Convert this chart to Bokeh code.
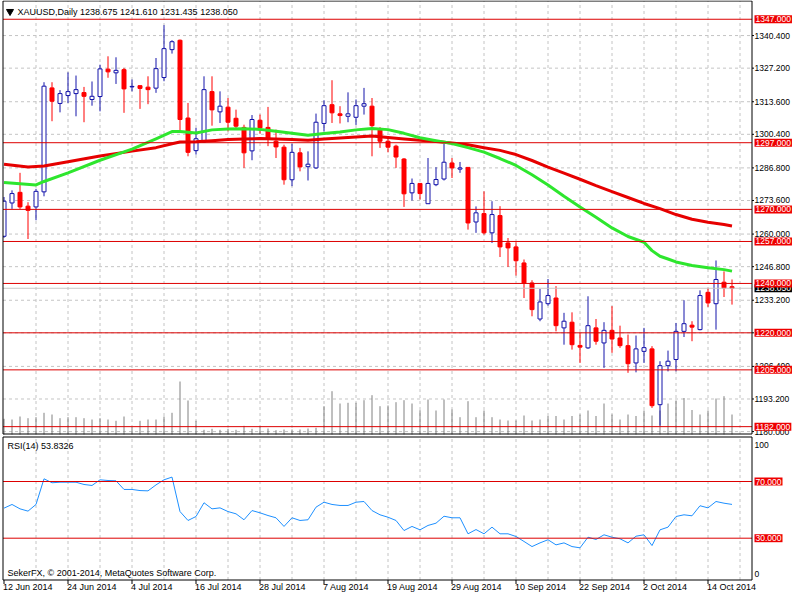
import numpy as np
import pandas as pd
from bokeh.plotting import figure
from bokeh.models import Range1d, Label, ColumnDataSource
from bokeh.core.properties import value
from bokeh.embed import file_html
from bokeh.resources import INLINE

# ---------------- data ----------------
dates = pd.bdate_range("2014-06-12", "2014-10-17")

opens = [1259.1, 1272.6, 1276.9, 1271.3, 1271.0, 1277.1, 1319.2, 1312.9, 1316.1, 1316.9,
         1317.3, 1314.5, 1315.7, 1326.8, 1325.3, 1326.6, 1319.6, 1320.1, 1319.5, 1319.1,
         1323.4, 1334.7, 1338.5, 1307.0, 1293.8, 1297.3, 1317.7, 1309.5, 1311.4, 1306.9,
         1303.2, 1293.7, 1306.1, 1303.2, 1297.6, 1295.2, 1282.0, 1292.9, 1287.3, 1286.8,
         1304.8, 1312.4, 1308.7, 1307.7, 1307.3, 1311.8, 1311.8, 1302.3, 1297.6, 1295.6,
         1290.4, 1276.7, 1280.5, 1272.3, 1280.0, 1282.3, 1288.8, 1286.3, 1287.0, 1264.9,
         1268.3, 1260.5, 1267.5, 1256.4, 1254.8, 1248.3, 1240.2, 1225.6, 1231.8, 1234.1,
         1222.0, 1224.3, 1214.9, 1213.9, 1222.0, 1215.9, 1221.0, 1217.9, 1214.8, 1207.8,
         1212.5, 1213.5, 1190.9, 1206.7, 1209.2, 1220.6, 1223.1, 1221.3, 1236.4, 1231.8,
         1240.5, 1238.675]
highs = [1275.0, 1277.7, 1284.8, 1272.9, 1278.3, 1321.5, 1321.5, 1318.3, 1325.5, 1324.2,
         1319.6, 1321.8, 1328.6, 1332.0, 1331.6, 1327.3, 1322.6, 1320.2, 1323.9, 1331.3,
         1344.6, 1338.5, 1338.8, 1313.1, 1303.0, 1323.9, 1323.9, 1317.8, 1315.1, 1310.4,
         1304.3, 1308.2, 1308.4, 1311.5, 1302.3, 1296.2, 1296.6, 1294.9, 1293.5, 1308.8,
         1314.2, 1322.3, 1311.8, 1317.4, 1314.5, 1319.2, 1315.1, 1303.3, 1299.6, 1296.2,
         1290.8, 1282.5, 1280.5, 1290.8, 1287.1, 1296.5, 1290.8, 1289.2, 1287.0, 1271.2,
         1277.3, 1273.3, 1271.3, 1258.4, 1256.7, 1249.7, 1241.3, 1237.8, 1241.8, 1238.9,
         1228.1, 1228.3, 1220.0, 1234.8, 1225.6, 1224.3, 1230.8, 1222.9, 1219.3, 1218.9,
         1222.0, 1214.6, 1208.5, 1212.8, 1224.0, 1233.2, 1224.7, 1237.2, 1238.2, 1249.3,
         1244.9, 1241.61]
lows = [1258.5, 1270.2, 1270.2, 1258.0, 1265.6, 1275.3, 1305.7, 1309.3, 1313.1, 1307.7,
        1305.3, 1312.0, 1309.7, 1323.3, 1320.8, 1309.1, 1317.8, 1310.7, 1312.6, 1317.2,
        1321.9, 1333.1, 1301.6, 1291.5, 1292.2, 1296.9, 1303.9, 1305.0, 1301.6, 1302.3,
        1286.8, 1289.9, 1300.7, 1295.6, 1290.8, 1280.0, 1279.4, 1285.4, 1281.7, 1286.4,
        1301.6, 1305.0, 1304.8, 1305.3, 1304.2, 1308.4, 1291.5, 1294.9, 1293.1, 1286.8,
        1271.0, 1273.6, 1274.0, 1272.3, 1279.4, 1281.7, 1282.7, 1284.8, 1261.8, 1260.5,
        1259.8, 1256.4, 1250.7, 1246.7, 1243.2, 1234.1, 1226.7, 1224.7, 1231.0, 1220.6,
        1215.2, 1213.2, 1207.8, 1213.5, 1215.2, 1205.8, 1211.9, 1213.9, 1203.8, 1204.0,
        1207.8, 1189.6, 1182.4, 1204.4, 1204.4, 1218.3, 1216.6, 1221.0, 1230.5, 1221.3,
        1234.5, 1231.435]
closes = [1273.3, 1276.4, 1271.0, 1269.6, 1277.3, 1319.9, 1313.8, 1316.9, 1317.7, 1318.5,
          1315.8, 1315.8, 1326.9, 1325.7, 1326.3, 1318.8, 1319.8, 1319.0, 1318.5, 1327.0,
          1335.1, 1337.9, 1306.4, 1293.1, 1298.6, 1318.5, 1310.3, 1311.8, 1305.3, 1303.7,
          1292.9, 1306.4, 1303.0, 1298.9, 1295.3, 1282.0, 1293.1, 1287.2, 1288.3, 1305.3,
          1312.0, 1309.1, 1308.0, 1308.7, 1312.0, 1312.8, 1303.9, 1297.6, 1295.2, 1291.2,
          1276.3, 1280.5, 1276.4, 1280.5, 1282.1, 1289.1, 1286.8, 1286.8, 1264.5, 1268.6,
          1260.5, 1267.9, 1254.8, 1254.4, 1249.2, 1240.2, 1229.4, 1232.5, 1235.1, 1222.9,
          1224.7, 1215.2, 1214.2, 1222.9, 1216.6, 1221.0, 1217.5, 1214.8, 1207.5, 1213.5,
          1214.0, 1190.5, 1206.7, 1208.5, 1220.6, 1223.7, 1222.3, 1235.1, 1232.1, 1241.6,
          1238.2, 1238.05]
# tick volume (thousands)
volumes = [15.7, 15.0, 18.0, 16.3, 17.3, 21.7, 20.0, 16.3, 17.3, 17.3,
           16.3, 15.0, 16.3, 15.0, 13.7, 18.0, 7.3, 13.7, 15.0, 15.0,
           18.0, 21.7, 53.0, 34.0, 13.7, 4.7, 5.7, 4.7, 5.7, 4.7,
           8.7, 5.7, 8.3, 6.0, 4.3, 5.0, 5.0, 5.0, 6.0, 6.7,
           28.3, 43.3, 31.0, 31.7, 31.7, 34.3, 39.3, 28.3, 29.0, 32.3,
           34.3, 31.0, 24.3, 35.0, 24.0, 35.0, 25.0, 17.3, 33.3, 17.3,
           24.0, 17.3, 15.0, 14.0, 14.0, 19.0, 14.0, 15.0, 18.5, 18.5,
           15.0, 18.5, 20.0, 24.0, 18.5, 31.0, 20.0, 15.0, 20.0, 18.5,
           24.0, 19.0, 24.0, 31.0, 34.0, 36.5, 24.5, 20.0, 24.0, 36.0,
           38.3, 20.0]
rsi = [51.2, 53.8, 50.7, 49.1, 53.8, 71.9, 69.1, 69.5, 69.5, 69.5,
       67.9, 67.2, 71.2, 70.7, 70.5, 64.4, 64.4, 63.6, 63.4, 67.6,
       71.2, 73.1, 48.8, 42.5, 45.3, 55.0, 50.7, 51.4, 48.8, 47.2,
       43.0, 49.5, 47.9, 46.0, 44.4, 38.3, 44.4, 42.5, 43.0, 51.9,
       55.4, 53.8, 53.1, 53.1, 55.4, 55.9, 49.5, 46.5, 44.8, 42.5,
       35.4, 38.3, 35.9, 39.0, 40.6, 45.5, 44.4, 44.4, 33.1, 36.1,
       33.1, 37.8, 33.1, 33.1, 31.2, 27.7, 24.1, 26.7, 28.9, 25.3,
       26.7, 24.1, 23.2, 30.7, 29.1, 32.4, 30.7, 29.6, 26.7, 31.4,
       32.4, 24.8, 35.9, 37.8, 45.3, 46.5, 45.8, 52.9, 51.4, 55.9,
       54.7, 53.8326]
# moving averages, read at selected bars
ma_fast_idx = [0, 2, 4, 5, 8, 12, 16, 19, 21, 22, 24, 26, 28, 30, 32, 34, 36, 38, 40, 42,
               44, 46, 48, 50, 52, 54, 56, 58, 60, 62, 64, 66, 68, 70, 72, 74, 76, 78, 80, 81,
               82, 83, 84, 86, 88, 90, 91]
ma_fast = [1280.9, 1280.4, 1279.9, 1281.3, 1284.8, 1289.9, 1294.4, 1298.6, 1301.5, 1301.5,
           1300.9, 1302.2, 1302.6, 1302.7, 1302.4, 1301.6, 1300.8, 1300.0, 1300.7, 1301.3,
           1302.2, 1302.8, 1302.3, 1300.8, 1299.0, 1297.8, 1296.7, 1295.0, 1293.2, 1290.6,
           1287.8, 1284.0, 1279.9, 1275.3, 1271.0, 1266.8, 1262.5, 1259.0, 1256.7, 1253.3,
           1251.0, 1249.9, 1248.7, 1247.3, 1246.4, 1245.6, 1245.0]
ma_slow_idx = [0, 3, 5, 8, 12, 16, 19, 21, 22, 24, 26, 28, 30, 32, 34, 36, 38, 40, 42, 44,
               46, 48, 50, 52, 54, 56, 58, 60, 62, 64, 66, 68, 70, 72, 74, 76, 78, 80, 82, 84,
               86, 88, 90, 91]
ma_slow = [1288.3, 1287.2, 1287.6, 1289.3, 1291.6, 1293.6, 1295.0, 1296.6, 1297.3, 1297.4,
           1297.8, 1298.3, 1298.5, 1298.7, 1298.5, 1298.3, 1298.0, 1298.5, 1298.9, 1299.3,
           1299.7, 1299.1, 1298.5, 1298.0, 1297.5, 1296.9, 1296.2, 1295.0, 1293.9, 1292.2,
           1289.8, 1287.1, 1284.7, 1282.2, 1279.6, 1277.2, 1274.8, 1272.4, 1270.3, 1267.9,
           1266.0, 1264.8, 1263.9, 1263.3]
levels = [1347.0, 1297.0, 1270.0, 1257.0, 1240.0, 1220.0, 1205.0, 1182.0]
price_ticks = [1340.4, 1327.2, 1313.6, 1300.4, 1286.8, 1273.6, 1260.0, 1246.8, 1233.2,
               1220.0, 1206.4, 1193.2, 1180.0]
rsi_levels = [70.0, 30.0]
rsi_scale_labels = ["100", "0"]
symbol = "XAUUSD,Daily"
copyright_text = "SekerFX, \u00a9 2001-2014, MetaQuotes Software Corp."

# ---------------- geometry (canvas pixels) / style ----------------
W, H = 792, 592
BAR = 8.0
X0PX = 3.5                      # pixel of bar 0
PX_PER_USD = 2.469
PRICE_AT_TOP = 1354.6
RSI_PX = 1.4175
MAIN_T, MAIN_B = 0.5, 433.5     # main panel border rows
RSI_T, RSI_B = 436.5, 579.5     # RSI panel border rows
LEFT, RIGHT = 2.5, 751.5        # panel border columns
SCALE_TEXT_X = 754              # left edge of price-scale texts

FONT = value("Liberation Sans")
FS = value("9px")
FS_SCALE = value("8.5px")
BLUE = "#1414aa"
RED = "#ff0000"
LRED = "#dd0000"
GRID = "#c4c4c4"


def px2x(px):
    return (px - X0PX) / BAR


def py2p(py):
    return PRICE_AT_TOP - py / PX_PER_USD


def py2r(py):
    return 70.0 - (py - 481.0) / RSI_PX


def py2v(py):
    return 434.0 - py


n = len(opens)
idx = np.arange(n)
o = np.array(opens)
c = np.array(closes)
bull = c >= o
src = ColumnDataSource(dict(
    x=idx, high=highs, low=lows,
    top=np.maximum(o, c), bottom=np.minimum(o, c),
    line=[BLUE if b else RED for b in bull],
    fill=["white" if b else RED for b in bull],
))
grid_idx = list(range(4, n + 2, 4))
label_idx = list(range(0, n, 8))

p = figure(width=W, height=H,
           x_range=Range1d(px2x(0), px2x(W)), y_range=Range1d(py2p(H), py2p(0)),
           x_axis_location=None, y_axis_location=None,
           toolbar_location=None, output_backend="svg",
           min_border_left=0, min_border_right=0, min_border_top=0, min_border_bottom=0)
p.outline_line_color = None
p.background_fill_color = "white"
p.border_fill_color = "white"
p.xgrid.grid_line_color = None
p.ygrid.grid_line_color = None
p.extra_y_ranges = {"rsi": Range1d(py2r(H), py2r(0)), "vol": Range1d(py2v(H), py2v(0))}

xl, xr = px2x(LEFT), px2x(RIGHT)

# dashed grid
ng = len(grid_idx)
p.segment(x0=grid_idx, x1=grid_idx, y0=[py2p(MAIN_B)] * ng, y1=[py2p(MAIN_T)] * ng,
          line_color=GRID, line_width=1, line_dash="3 3")
p.segment(x0=grid_idx, x1=grid_idx, y0=[py2r(RSI_B)] * ng, y1=[py2r(RSI_T)] * ng,
          line_color=GRID, line_width=1, line_dash="3 3", y_range_name="rsi")
npt = len(price_ticks)
p.segment(x0=[xl] * npt, x1=[xr] * npt, y0=price_ticks, y1=price_ticks,
          line_color=GRID, line_width=1, line_dash="3 3")

# volumes
p.segment(x0=idx, y0=0, x1=idx, y1=volumes, y_range_name="vol",
          line_color="#808080", line_width=1)

# candles
p.segment(x0="x", y0="low", x1="x", y1="high", line_color="line", line_width=1, source=src)
p.vbar(x="x", width=0.5, top="top", bottom="bottom", fill_color="fill",
       line_color="line", line_width=1, source=src)

# moving averages
p.line(ma_slow_idx, ma_slow, line_color="#e60000", line_width=3, line_join="round")
p.line(ma_fast_idx, ma_fast, line_color="#2ee62e", line_width=3, line_join="round")

# bid line and horizontal levels
p.segment(x0=[xl], x1=[xr], y0=[closes[-1]], y1=[closes[-1]], line_color="#c8c8c8", line_width=1)
nl = len(levels)
p.segment(x0=[xl] * nl, x1=[xr] * nl, y0=levels, y1=levels, line_color=LRED, line_width=1)

# RSI
p.line(idx, rsi, line_color="#1e90ff", line_width=1, y_range_name="rsi")
nr = len(rsi_levels)
p.segment(x0=[xl] * nr, x1=[xr] * nr, y0=rsi_levels, y1=rsi_levels, line_color=LRED,
          line_width=1, y_range_name="rsi")

# mask left of the panels, then borders
p.quad(left=px2x(0), right=xl, bottom=py2p(H), top=py2p(0), fill_color="white", line_color=None)
p.quad(left=xl, right=xr, bottom=py2p(MAIN_B), top=py2p(MAIN_T), fill_color=None,
       line_color="black", line_width=1)
p.quad(left=xl, right=xr, bottom=py2r(RSI_B), top=py2r(RSI_T), fill_color=None,
       line_color="black", line_width=1, y_range_name="rsi")

# price-scale ticks and labels
p.segment(x0=[xr] * npt, x1=[px2x(753.5)] * npt, y0=price_ticks, y1=price_ticks,
          line_color="black", line_width=1)
p.text(x=[px2x(SCALE_TEXT_X)] * npt, y=price_ticks, text=[f"{t:.3f}" for t in price_ticks],
       text_font=FONT, text_font_size=FS_SCALE, text_color="black",
       text_baseline="middle", text_align="left")

# date ticks and labels
nd = len(label_idx)
p.segment(x0=label_idx, x1=label_idx, y0=[py2r(RSI_B)] * nd, y1=[py2r(RSI_B + 4)] * nd,
          line_color="black", line_width=1, y_range_name="rsi")
p.text(x=[k - 1 / BAR for k in label_idx], y=[py2r(586.5)] * nd,
       text=[f"{dates[k].day} {dates[k]:%b %Y}" for k in label_idx],
       text_font=FONT, text_font_size=FS, text_color="black",
       text_baseline="middle", text_align="left", y_range_name="rsi")

# RSI scale labels
p.text(x=[px2x(SCALE_TEXT_X)] * 2, y=[py2r(444), py2r(573)], text=rsi_scale_labels,
       text_font=FONT, text_font_size=FS_SCALE, text_color="black",
       text_baseline="middle", text_align="left", y_range_name="rsi")

# header, indicator name, copyright
p.scatter(x=[px2x(9.5)], y=[py2p(11)], marker="inverted_triangle", size=7,
          fill_color="black", line_color="black")
p.text(x=[px2x(17)], y=[py2p(11)],
       text=[f"{symbol}  {opens[-1]:.3f} {highs[-1]:.3f} {lows[-1]:.3f} {closes[-1]:.3f}"],
       text_font=FONT, text_font_size=FS, text_color="black",
       text_baseline="middle", text_align="left")
p.text(x=[px2x(7)] * 2, y=[py2r(445), py2r(572)],
       text=[f"RSI(14) {rsi[-1]:.4f}", copyright_text],
       text_font=FONT, text_font_size=FS, text_color="black",
       text_baseline="middle", text_align="left", y_range_name="rsi")


# value boxes on the price scales
def box(y, text, bg, range_name="default"):
    p.add_layout(Label(x=px2x(SCALE_TEXT_X), y=y, text=text, text_font="Liberation Sans",
                       text_font_size="8.5px", text_color="white", text_baseline="middle",
                       text_align="left", background_fill_color=bg, padding=1,
                       y_range_name=range_name))


box(closes[-1], f"{closes[-1]:.3f}", "black")
for lv in levels:
    box(lv, f"{lv:.3f}", "#ee0000")
for lv in rsi_levels:
    box(lv, f"{lv:.3f}", "#ee0000", "rsi")

open("out.html", "w").write(file_html(p, INLINE))
